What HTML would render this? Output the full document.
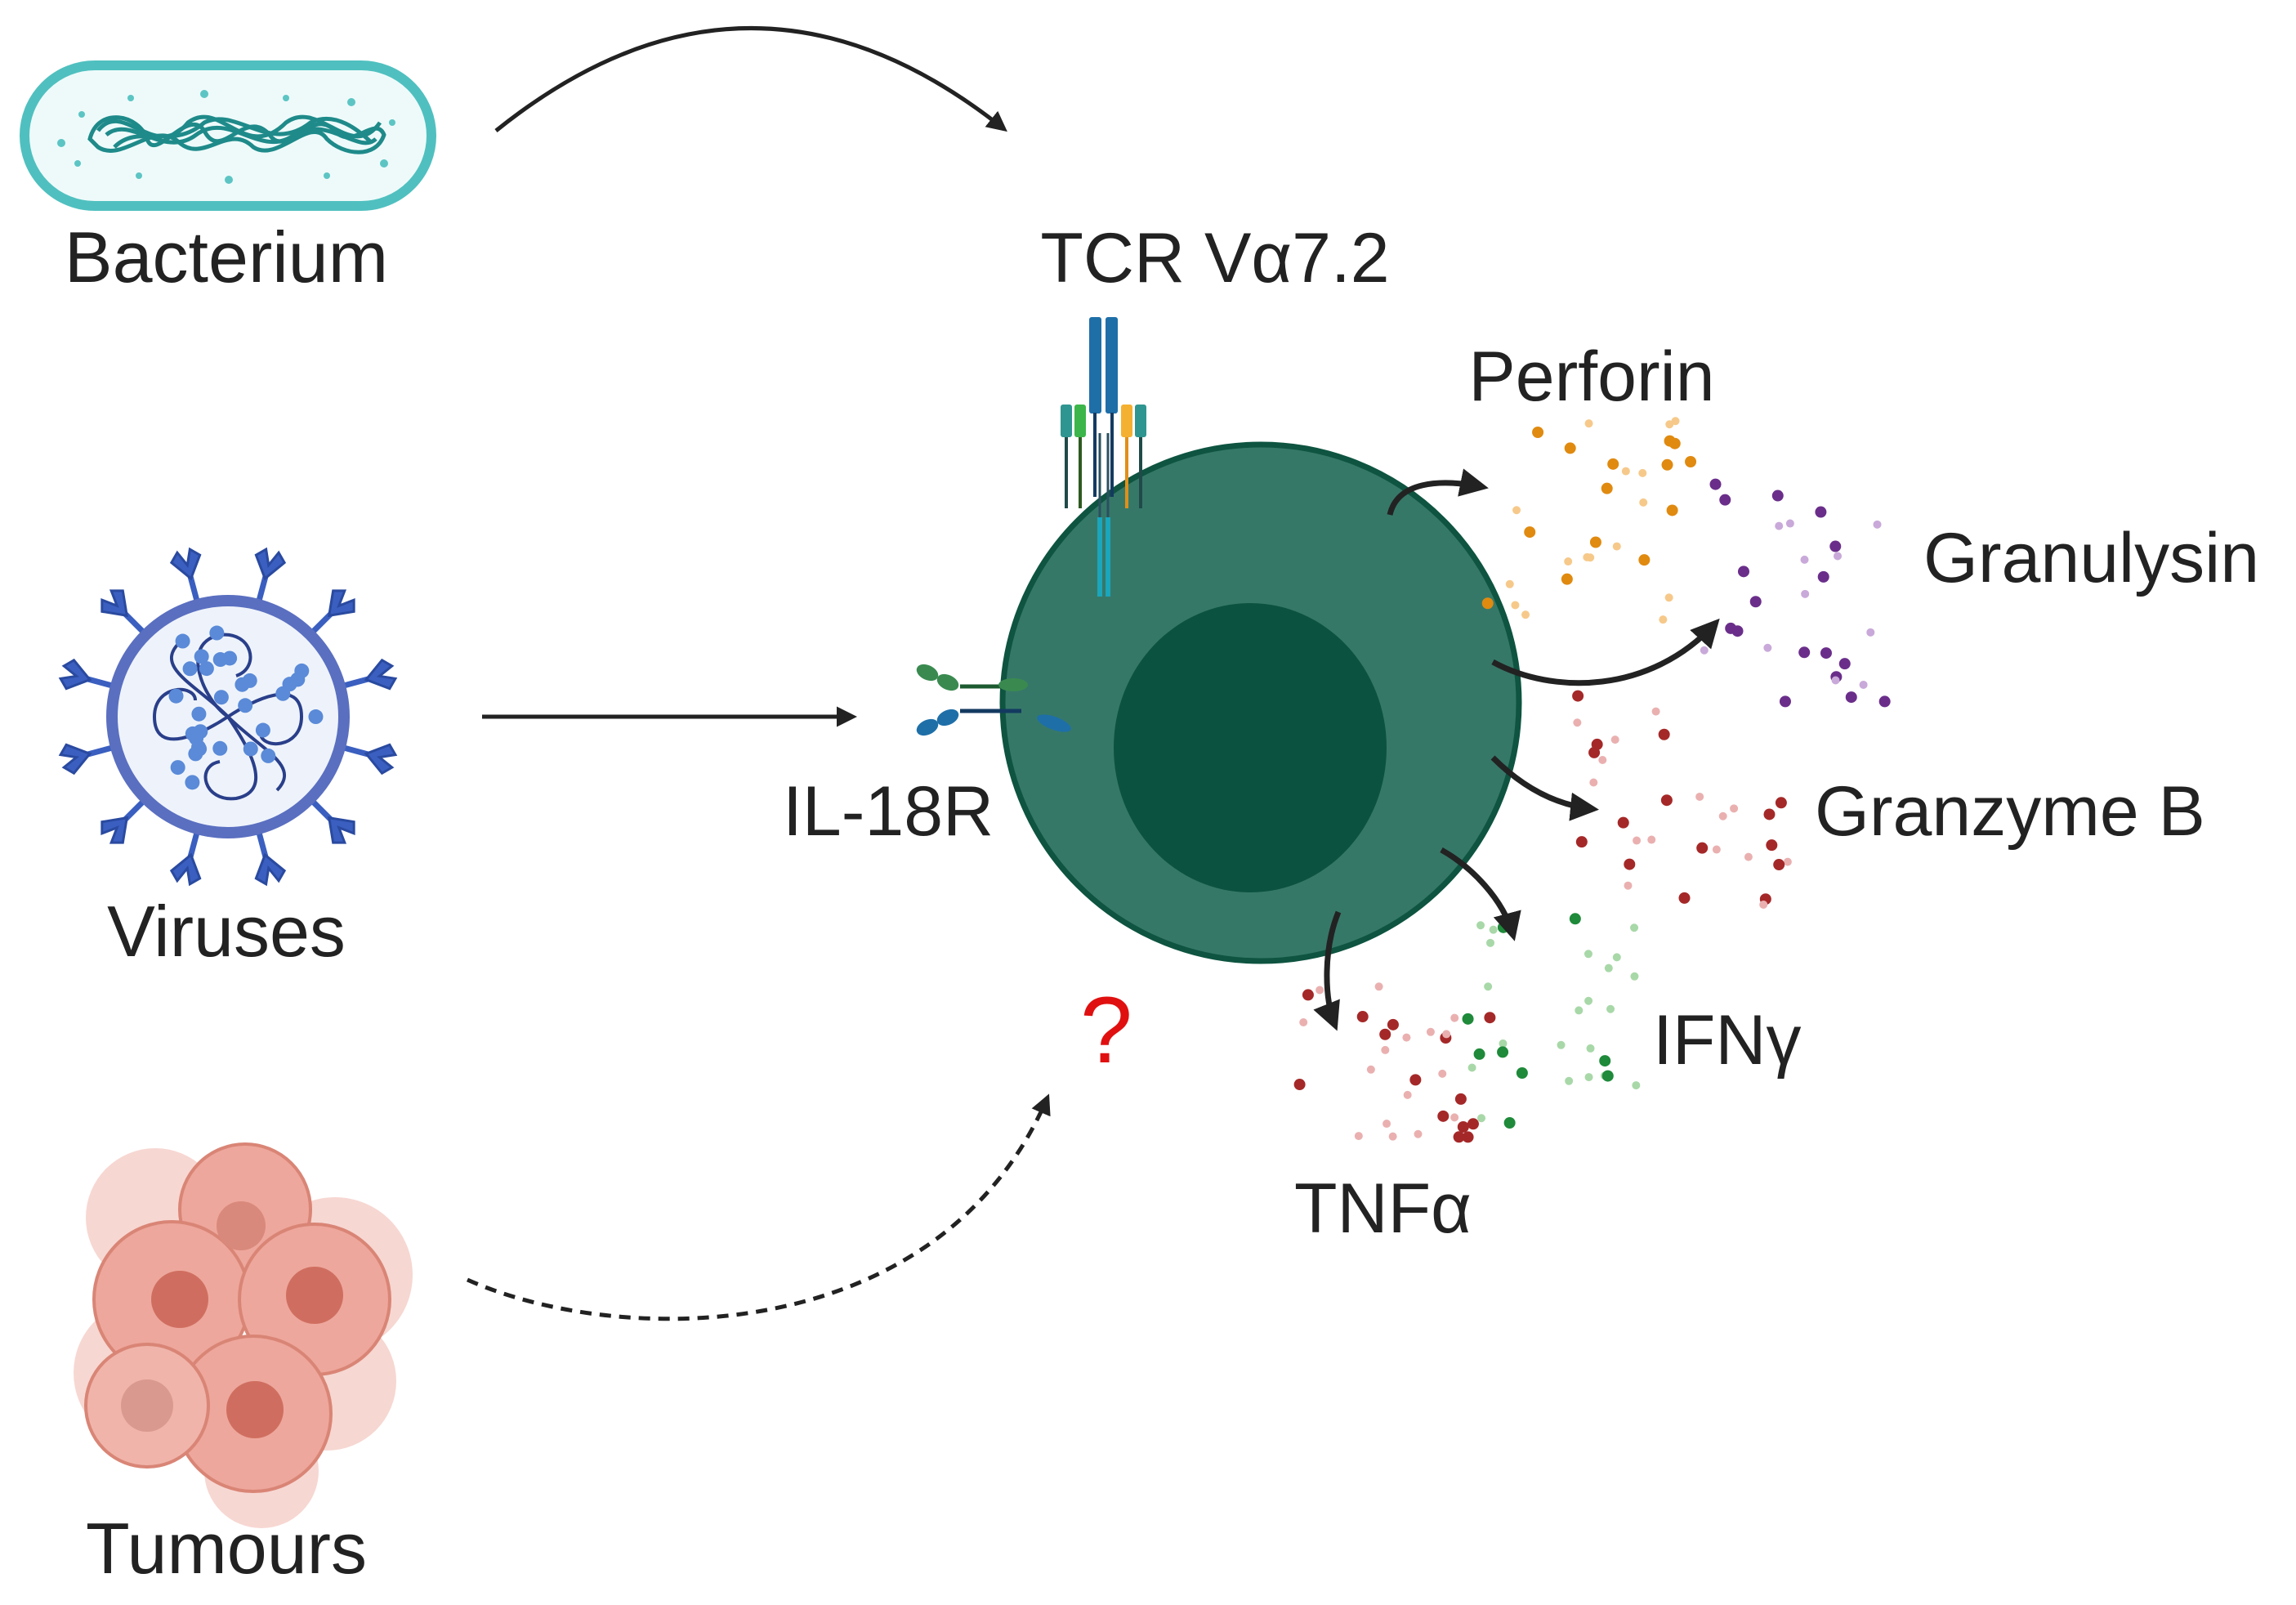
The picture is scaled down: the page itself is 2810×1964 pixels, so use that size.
<!DOCTYPE html>
<html><head><meta charset="utf-8"><style>
html,body{margin:0;padding:0;background:#fff;}
svg{display:block;}
text{font-family:"Liberation Sans",sans-serif;fill:#222;}
</style></head><body>
<svg id="s" width="2810" height="1964" viewBox="0 0 2810 1964" xmlns="http://www.w3.org/2000/svg">
<defs>
<marker id="ah" viewBox="0 0 10 10" refX="8" refY="5" markerWidth="5" markerHeight="5" orient="auto"><path d="M0,0 L10,5 L0,10 z" fill="#222"/></marker>
<marker id="ah2" viewBox="0 0 10 10" refX="8" refY="5" markerWidth="5" markerHeight="5" orient="auto"><path d="M0,0 L10,5 L0,10 z" fill="#222"/></marker>
</defs>
<!-- Bacterium -->
<rect x="30" y="80" width="498" height="172" rx="86" fill="#eefafa" stroke="#4fc0bf" stroke-width="12"/>
<g fill="none" stroke="#1f8a8a" stroke-width="5">
<path d="M110,170 C120,130 170,140 180,170 C190,200 230,130 250,160 C270,200 300,130 330,165 C350,195 380,130 410,160 C430,185 460,140 470,165 C460,195 420,190 400,170 C380,140 340,200 310,180 C280,150 250,200 220,175 C190,145 150,200 120,180 Z"/>
<path d="M130,165 C160,140 200,195 240,165 C280,135 320,195 360,165 C400,140 440,190 460,170"/>
<path d="M140,180 C170,150 210,185 250,150 C290,130 330,190 380,150 C410,135 440,160 455,175"/>
<path d="M120,160 C150,120 190,200 230,150 C270,120 300,200 350,150 C390,120 430,200 465,150"/>
</g>
<g fill="#5cc5c4"><circle cx="75" cy="175" r="5"/><circle cx="100" cy="140" r="4"/><circle cx="160" cy="120" r="4"/><circle cx="250" cy="115" r="5"/><circle cx="350" cy="120" r="4"/><circle cx="430" cy="125" r="5"/><circle cx="480" cy="150" r="4"/><circle cx="470" cy="200" r="5"/><circle cx="400" cy="215" r="4"/><circle cx="280" cy="220" r="5"/><circle cx="170" cy="215" r="4"/><circle cx="95" cy="200" r="4"/></g>
<text x="277" y="345" font-size="88" text-anchor="middle">Bacterium</text>

<!-- Virus -->
<g transform="translate(279,877)">
<g id="sp" fill="#3a5fc0" stroke="#2a4aa0" stroke-width="3">
</g>
<circle r="142" fill="#eef3fb" stroke="#5a6fc0" stroke-width="14"/>
<g fill="none" stroke="#2a3f8a" stroke-width="4">
<path d="M0,0 C-30,-20 -60,-90 -10,-100 C30,-105 40,-60 10,-50"/>
<path d="M0,0 C30,-20 90,-50 90,0 C90,40 40,40 40,20"/>
<path d="M0,0 C20,30 60,90 10,100 C-30,105 -40,60 -10,55"/>
<path d="M0,0 C-30,20 -90,50 -90,0 C-90,-40 -40,-40 -40,-20"/>
<path d="M0,0 C-40,-40 -90,-60 -60,-90"/><path d="M0,0 C40,40 90,60 60,90"/>
</g>
<g id="vd" fill="#5a8ad8"></g>
</g>
<text x="277" y="1170" font-size="88" text-anchor="middle">Viruses</text>

<!-- Tumours -->
<g>
<g fill="#f6d3cd" opacity="0.9">
<circle cx="190" cy="1490" r="85"/><circle cx="410" cy="1560" r="95"/><circle cx="180" cy="1680" r="90"/><circle cx="400" cy="1690" r="85"/><circle cx="320" cy="1800" r="70"/>
</g>
<g fill="#eea79c" stroke="#d98576" stroke-width="4">
<circle cx="300" cy="1480" r="80"/>
<circle cx="210" cy="1590" r="95"/>
<circle cx="385" cy="1590" r="92"/>
<circle cx="310" cy="1730" r="95"/>
<circle cx="180" cy="1720" r="75" fill="#f0b4aa"/>
</g>
<g fill="#cf6e60"><circle cx="220" cy="1590" r="35"/><circle cx="385" cy="1585" r="35"/><circle cx="312" cy="1725" r="35"/><circle cx="295" cy="1500" r="30" fill="#d9897c"/><circle cx="180" cy="1720" r="32" fill="#d9998e"/></g>
</g>
<text x="277" y="1925" font-size="88" text-anchor="middle">Tumours</text>

<!-- Arrows left -->
<path d="M607,160 Q918,-90 1229,158" fill="none" stroke="#222" stroke-width="5" marker-end="url(#ah)"/>
<path d="M590,877 L1044,877" fill="none" stroke="#222" stroke-width="5" marker-end="url(#ah)"/>
<path d="M572,1566 C760,1650 1150,1650 1282,1343" fill="none" stroke="#222" stroke-width="5" stroke-dasharray="14,10" marker-end="url(#ah)"/>

<!-- Cell -->
<circle cx="1543" cy="860" r="316" fill="#367868" stroke="#0e5440" stroke-width="7"/>
<ellipse cx="1530" cy="915" rx="167" ry="177" fill="#0c5240"/>

<!-- TCR -->
<g>
<rect x="1298" y="495" width="14" height="40" rx="3" fill="#2f9590"/><line x1="1305" y1="535" x2="1305" y2="622" stroke="#204a48" stroke-width="4"/>
<rect x="1315" y="495" width="14" height="40" rx="3" fill="#3cb64a"/><line x1="1322" y1="535" x2="1322" y2="622" stroke="#2e5a20" stroke-width="4"/>
<rect x="1372" y="495" width="14" height="40" rx="3" fill="#f4b030"/><line x1="1379" y1="535" x2="1379" y2="622" stroke="#e0901a" stroke-width="4"/>
<rect x="1389" y="495" width="14" height="40" rx="3" fill="#2f9590"/><line x1="1396" y1="535" x2="1396" y2="622" stroke="#204a48" stroke-width="4"/>
<rect x="1333" y="388" width="15" height="118" rx="3" fill="#1e6fa8"/><rect x="1353" y="388" width="15" height="118" rx="3" fill="#1e6fa8"/>
<line x1="1340" y1="505" x2="1340" y2="608" stroke="#143a60" stroke-width="4"/><line x1="1361" y1="505" x2="1361" y2="608" stroke="#143a60" stroke-width="4"/>
<line x1="1346" y1="530" x2="1346" y2="635" stroke="#2a5060" stroke-width="3"/><line x1="1356" y1="530" x2="1356" y2="635" stroke="#2a5060" stroke-width="3"/>
<rect x="1343" y="633" width="6" height="97" fill="#1aa6bb"/><rect x="1353" y="633" width="6" height="97" fill="#1aa6bb"/>
</g>
<text x="1487" y="345" font-size="86" text-anchor="middle">TCR Vα7.2</text>

<!-- IL-18R -->
<g>
<ellipse cx="1135" cy="823" rx="14" ry="9" fill="#3a8a50" transform="rotate(25 1135 823)"/>
<ellipse cx="1160" cy="835" rx="14" ry="9" fill="#3a8a50" transform="rotate(25 1160 835)"/>
<line x1="1175" y1="840" x2="1230" y2="840" stroke="#1d5a30" stroke-width="5"/>
<ellipse cx="1240" cy="838" rx="18" ry="8" fill="#3a8a50"/>
<ellipse cx="1135" cy="890" rx="14" ry="9" fill="#1e6fa8" transform="rotate(-25 1135 890)"/>
<ellipse cx="1160" cy="878" rx="14" ry="9" fill="#1e6fa8" transform="rotate(-25 1160 878)"/>
<line x1="1175" y1="870" x2="1250" y2="870" stroke="#143a60" stroke-width="5"/>
<ellipse cx="1290" cy="885" rx="22" ry="8" fill="#1e6fa8" transform="rotate(20 1290 885)"/>
</g>
<text x="958" y="1022" font-size="86">IL-18R</text>

<text x="1354" y="1300" font-size="115" fill="#e01010" style="fill:#e01010" text-anchor="middle">?</text>

<g id="dots"></g>

<!-- cell arrows -->
<g fill="none" stroke="#222" stroke-width="7">
<path d="M1701,630 C1710,590 1760,585 1815,596" marker-end="url(#ah2)"/>
<path d="M1827,810 C1900,850 2020,850 2100,762" marker-end="url(#ah2)"/>
<path d="M1827,927 C1860,960 1900,985 1950,990" marker-end="url(#ah2)"/>
<path d="M1764,1040 C1800,1060 1840,1100 1852,1145" marker-end="url(#ah2)"/>
<path d="M1638,1116 C1620,1160 1620,1220 1634,1255" marker-end="url(#ah2)"/>
</g>

<text x="1948" y="490" font-size="86" text-anchor="middle">Perforin</text>
<text x="2354" y="712" font-size="86">Granulysin</text>
<text x="2221" y="1022" font-size="86">Granzyme B</text>
<text x="2023" y="1302" font-size="86">IFNγ</text>
<text x="1584" y="1508" font-size="86">TNFα</text>
</svg>
<script>
(function(){
var NS="http://www.w3.org/2000/svg";
var seed=7;function r(){seed=(seed*16807)%2147483647;return seed/2147483647;}
var sp=document.getElementById("sp");
for(var i=0;i<12;i++){var a=i*Math.PI/6+Math.PI/12;var g=document.createElementNS(NS,"g");
g.setAttribute("transform","rotate("+(a*180/Math.PI)+")");
g.innerHTML='<line x1="140" y1="0" x2="178" y2="0" stroke="#3a5fc0" stroke-width="7"/><path d="M175,0 L200,-18 L210,-8 L192,0 L210,8 L200,18 Z" fill="#3a5fc0"/>';
sp.appendChild(g);}
var vd=document.getElementById("vd");
for(var i=0;i<30;i++){var a=r()*6.28,d=20+r()*95;var c=document.createElementNS(NS,"circle");
c.setAttribute("cx",Math.cos(a)*d);c.setAttribute("cy",Math.sin(a)*d);c.setAttribute("r",9);vd.appendChild(c);}
var D=document.getElementById("dots");
function cl(x0,y0,w,h,n,c1,c2){for(var i=0;i<n;i++){var c=document.createElementNS(NS,"circle");
var dark=r()<0.5;c.setAttribute("cx",x0+r()*w);c.setAttribute("cy",y0+r()*h);c.setAttribute("r",dark?7:5);
c.setAttribute("fill",dark?c1:c2);D.appendChild(c);}}
cl(1820,510,250,250,30,"#e08a10","#f6c98a");
cl(2080,590,230,270,28,"#6a2e8a","#c9a9d9");
cl(1930,850,270,260,30,"#a52828","#eab0b0");
cl(1790,1120,220,270,30,"#1e8a3a","#a8d8a8");
cl(1585,1200,240,220,30,"#a52828","#eab0b0");
})();
</script>
</body></html>
